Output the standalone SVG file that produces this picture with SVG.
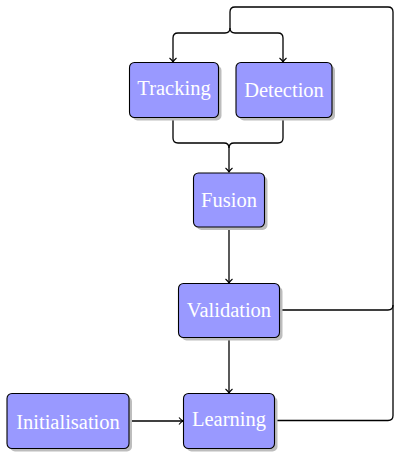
<svg xmlns="http://www.w3.org/2000/svg" width="401" height="461" viewBox="0 0 401 461">
<style>
.box{fill:#9999ff;stroke:#000;stroke-width:1.1}
.sh{fill:#bdbdbd}
.lbl{font-family:"Liberation Serif","Times New Roman",serif;font-size:20.5px;fill:#fff;text-anchor:middle}
.c{fill:none;stroke:#000;stroke-width:1.3}
</style>
<defs>
<marker id="arr" markerWidth="10" markerHeight="10" refX="6" refY="5" orient="auto" markerUnits="userSpaceOnUse">
<path d="M2,1.5 Q4,4 6,5 Q4,6 2,8.5" fill="none" stroke="#000" stroke-width="1.1"/>
</marker>
</defs>
<g id="connectors">
<path class="c" d="M274,420.5 H388 Q393,420.5 393,415.5 V12 Q393,7 388,7 H235 Q230,7 230,12 V28 Q230,33 225,33 H178 Q173,33 173,38 V62" marker-end="url(#arr)"/>
<path class="c" d="M230,28 Q230,33 235,33 H278 Q283,33 283,38 V62" marker-end="url(#arr)"/>
<path class="c" d="M279,310 H388 Q393,310 393,305"/>
<path class="c" d="M173,117 V138 Q173,143 178,143 H224 Q229,143 229,148 V172" marker-end="url(#arr)"/>
<path class="c" d="M283,117 V138 Q283,143 278,143 H234 Q229,143 229,148"/>
<path class="c" d="M229,227 V283" marker-end="url(#arr)"/>
<path class="c" d="M229,337 V393" marker-end="url(#arr)"/>
<path class="c" d="M128,421 H183" marker-end="url(#arr)"/>
</g>
<g id="tracking">
<rect class="sh" x="132.5" y="65.5" width="89" height="55" rx="5"/>
<rect class="box" x="129.5" y="62.5" width="89" height="55" rx="5"/>
<text class="lbl" x="174" y="95">Tracking</text>
</g>
<g id="detection">
<rect class="sh" x="239" y="65.5" width="96" height="55" rx="5"/>
<rect class="box" x="236" y="62.5" width="96" height="55" rx="5"/>
<text class="lbl" x="284" y="97">Detection</text>
</g>
<g id="fusion">
<rect class="sh" x="196.5" y="176" width="71" height="54" rx="5"/>
<rect class="box" x="193.5" y="173" width="71" height="54" rx="5"/>
<text class="lbl" x="229" y="207">Fusion</text>
</g>
<g id="validation">
<rect class="sh" x="181.5" y="286.5" width="101" height="54" rx="5"/>
<rect class="box" x="178.5" y="283.5" width="101" height="54" rx="5"/>
<text class="lbl" x="229" y="317">Validation</text>
</g>
<g id="initialisation">
<rect class="sh" x="10" y="396.5" width="122" height="55" rx="5"/>
<rect class="box" x="7" y="393.5" width="122" height="55" rx="5"/>
<text class="lbl" x="68" y="429">Initialisation</text>
</g>
<g id="learning">
<rect class="sh" x="186.5" y="396.5" width="91" height="55" rx="5"/>
<rect class="box" x="183.5" y="393.5" width="91" height="55" rx="5"/>
<text class="lbl" x="229" y="426">Learning</text>
</g>
</svg>
